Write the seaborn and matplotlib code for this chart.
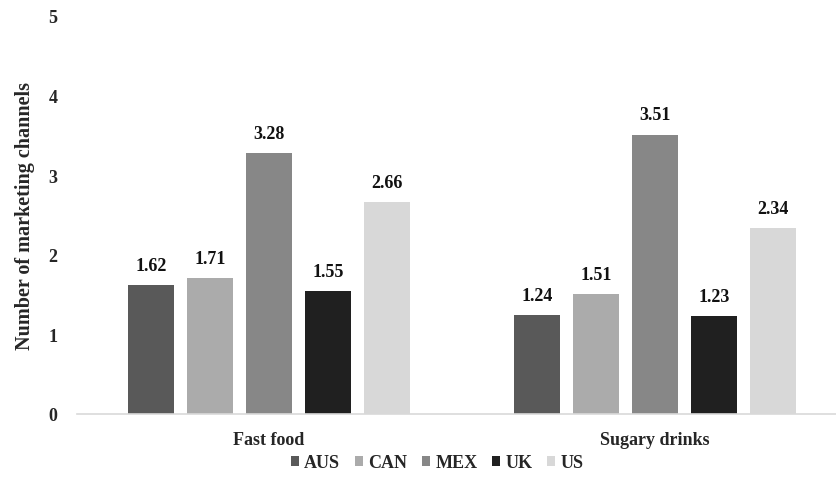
import matplotlib
matplotlib.use("Agg")
import matplotlib.pyplot as plt
import seaborn as sns
import pandas as pd
from matplotlib.patches import Patch

categories = ["Fast food", "Sugary drinks"]
countries = ["AUS", "CAN", "MEX", "UK", "US"]
values = {
    "AUS": [1.62, 1.24],
    "CAN": [1.71, 1.51],
    "MEX": [3.28, 3.51],
    "UK": [1.55, 1.23],
    "US": [2.66, 2.34],
}
colors = ["#595959", "#ababab", "#878787", "#202020", "#d8d8d8"]
yticks = [0, 1, 2, 3, 4, 5]

rows = []
for c in countries:
    for cat, v in zip(categories, values[c]):
        rows.append({"category": cat, "country": c, "value": v})
df = pd.DataFrame(rows)

sns.set_theme(style="white")
plt.rcParams["font.family"] = ["Liberation Serif", "DejaVu Serif"]
plt.rcParams["font.weight"] = "bold"

fig = plt.figure(figsize=(8.36, 4.85), dpi=100)
ax = fig.add_axes([77 / 836, 1 - 415 / 485, 1 - 77 / 836, (415 - 17) / 485])

sns.barplot(data=df, x="category", y="value", hue="country", order=categories,
            hue_order=countries, palette=colors, width=0.764, gap=0.22,
            saturation=1, ax=ax, legend=False, linewidth=0)

for cont in ax.containers:
    ax.bar_label(cont, fmt="%.2f", padding=8, fontsize=13, fontweight="bold",
                 color="#111111")

ax.set_ylim(0, 5)
ax.set_xlim(-0.497, 1.469)
ax.set_yticks(yticks)
ax.set_yticklabels([str(t) for t in yticks], fontsize=13, fontweight="bold")
ax.tick_params(axis="y", length=0, pad=14)
ax.tick_params(axis="x", length=0, pad=12, labelsize=13)
for lab in ax.get_xticklabels():
    lab.set_fontweight("bold")
ax.set_xlabel("")
ax.set_ylabel("Number of marketing channels", fontsize=14.5, fontweight="bold",
              labelpad=10)
for s in ["top", "right", "left"]:
    ax.spines[s].set_visible(False)
ax.spines["bottom"].set_color("#d9d9d9")
ax.spines["bottom"].set_linewidth(1.2)
ax.grid(False)

handles = [Patch(facecolor=col, edgecolor="none", label=c) for c, col in zip(countries, colors)]
fig.legend(handles=handles, loc="center", bbox_to_anchor=(437 / 836, 1 - 464 / 485),
           ncol=5, frameon=False, handlelength=0.45, handleheight=0.45,
           handletextpad=0.3, columnspacing=0.8, prop={"weight": "bold", "size": 13})

fig.savefig("out.png", dpi=100)
